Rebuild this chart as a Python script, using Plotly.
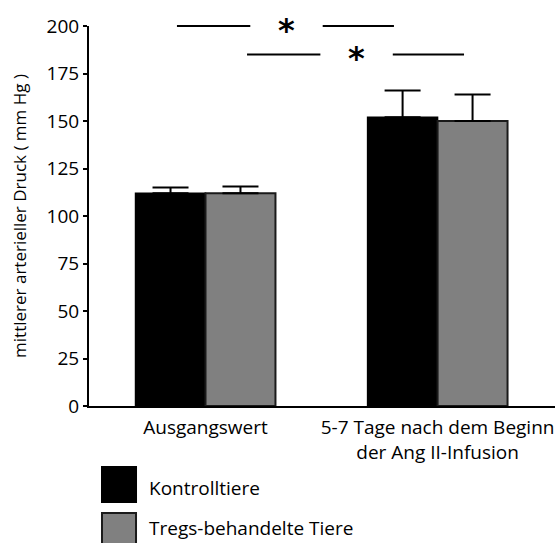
import plotly.graph_objects as go

# Mean arterial pressure (mm Hg), mean and upper SEM per group
categories = ["Ausgangswert", "5-7 Tage nach dem Beginn<br>der Ang II-Infusion"]
series_names = ["Kontrolltiere", "Tregs-behandelte Tiere"]
kontroll_values = [112, 152]
kontroll_err = [3, 14]
tregs_values = [112, 150]
tregs_err = [3.5, 14]
y_ticks = [0, 25, 50, 75, 100, 125, 150, 175, 200]

FONT = "Open Sans"
STAR_FONT = "DejaVu Sans"
BLACK = "#000000"
GRAY = "#808080"
EDGE = "#1a1a1a"

X_RANGE = [-0.502, 1.506]
Y_RANGE = [0, 200]

x_idx = list(range(len(categories)))

fig = go.Figure()
fig.add_trace(go.Bar(
    name=series_names[0], x=x_idx, y=kontroll_values,
    marker=dict(color=BLACK, line=dict(color=BLACK, width=1.5)),
    error_y=dict(type="data", array=kontroll_err, arrayminus=[0] * len(kontroll_err),
                 symmetric=False, color=BLACK, thickness=2, width=18),
    showlegend=False,
))
fig.add_trace(go.Bar(
    name=series_names[1], x=x_idx, y=tregs_values,
    marker=dict(color=GRAY, line=dict(color=EDGE, width=2)),
    error_y=dict(type="data", array=tregs_err, arrayminus=[0] * len(tregs_err),
                 symmetric=False, color=BLACK, thickness=2, width=18),
    showlegend=False,
))


def to_px(x):
    return (x - X_RANGE[0]) / (X_RANGE[1] - X_RANGE[0])


def to_py(y):
    return (y - Y_RANGE[0]) / (Y_RANGE[1] - Y_RANGE[0])


# Significance brackets: black-vs-black at 200, gray-vs-gray at 185
# (paper coordinates so the top bracket is not clipped by the plot area)
bar_offset = 0.151
comparisons = [(-bar_offset, 200), (bar_offset, 185)]
pad_left, pad_right, gap_half = 0.028, 0.037, 0.156
shapes = []
annotations = []
for off, level in comparisons:
    x0 = x_idx[0] + off + pad_left
    x1 = x_idx[1] + off - pad_right
    mid = (x_idx[0] + x_idx[1]) / 2 + off
    for a, b in [(x0, mid - gap_half), (mid + gap_half, x1)]:
        shapes.append(dict(type="line", xref="paper", yref="paper",
                           x0=to_px(a), x1=to_px(b), y0=to_py(level), y1=to_py(level),
                           line=dict(color=BLACK, width=2.2)))
    annotations.append(dict(x=to_px(mid), y=to_py(level), xref="paper", yref="paper",
                            text="<b>*</b>", showarrow=False,
                            font=dict(family=STAR_FONT, size=32, color=BLACK),
                            yanchor="middle", yshift=-4))

# Legend drawn as large swatches below the axis
legend_rows = [(series_names[0], BLACK, BLACK, -0.1605, -0.2526, -0.216),
               (series_names[1], GRAY, EDGE, -0.2816, -0.374, -0.321)]
for label, fill, edge, y0, y1, ty in legend_rows:
    shapes.append(dict(type="rect", xref="paper", yref="paper", x0=0.0279, x1=0.1009,
                       y0=y0, y1=y1, fillcolor=fill, line=dict(color=edge, width=2)))
    annotations.append(dict(x=0.124, y=ty, xref="paper", yref="paper", text=label,
                            showarrow=False, xanchor="left", yanchor="middle",
                            font=dict(family=FONT, size=19, color=BLACK)))

fig.update_layout(
    width=556, height=543,
    margin=dict(l=89, r=1, t=26, b=137),
    paper_bgcolor="white", plot_bgcolor="white",
    barmode="group", bargap=0.397, bargroupgap=0,
    font=dict(family=FONT, size=19, color=BLACK),
    shapes=shapes, annotations=annotations,
    xaxis=dict(range=X_RANGE, tickmode="array", tickvals=x_idx, ticktext=categories,
               showline=True, linecolor=BLACK, linewidth=2, ticks="outside", ticklen=3,
               tickcolor="rgba(0,0,0,0)", showgrid=False, zeroline=False,
               tickfont=dict(family=FONT, size=19)),
    yaxis=dict(range=Y_RANGE, tickmode="array", tickvals=y_ticks,
               showline=True, linecolor=BLACK, linewidth=2, ticks="outside", ticklen=4,
               tickwidth=2, tickcolor=BLACK, showgrid=False, zeroline=False,
               tickfont=dict(family=FONT, size=19),
               title=dict(text="mittlerer arterieller Druck ( mm Hg )", standoff=16,
                          font=dict(family=FONT, size=17))),
)

fig.write_html("out.html")
